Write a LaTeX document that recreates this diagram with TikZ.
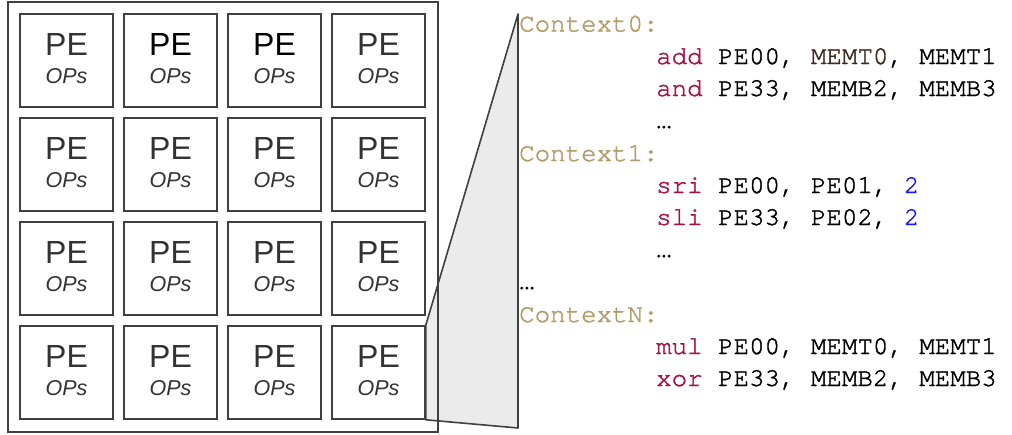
\documentclass[tikz,border=0pt]{standalone}
\usepackage{fontspec}
\setmainfont{Liberation Sans}
\newfontfamily\codefont[FakeBold=1.6]{texgyrecursor-regular.otf}
\definecolor{ctx}{RGB}{178,156,106}
\definecolor{kw}{RGB}{163,21,69}
\definecolor{num}{RGB}{26,26,245}
\definecolor{mem}{RGB}{62,44,32}
\definecolor{edgec}{RGB}{64,64,64}
\definecolor{pegray}{RGB}{51,51,51}
\definecolor{fan}{RGB}{235,235,235}
\begin{document}
\begin{tikzpicture}[x=1pt,y=-1pt,
 pebox/.style={draw=edgec,line width=1.6pt,minimum width=93pt,minimum height=93pt,inner sep=0pt,fill=white},
 petext/.style={anchor=base,inner sep=0pt,font=\fontsize{32}{32}\selectfont},
 opstext/.style={anchor=base,inner sep=0pt,font=\fontsize{21.5}{21.5}\selectfont\itshape,text=pegray},
 code/.style={anchor=base west,inner sep=0pt,font=\codefont\fontsize{25.8}{26}\selectfont}]
\useasboundingbox (0,0) rectangle (1012,434);
% PE grid
\foreach \r in {0,1,2,3}{
  \foreach \c in {0,1,2,3}{
    \pgfmathsetmacro{\cx}{66.5+104*\c}
    \pgfmathsetmacro{\cy}{60.5+104*\r}
    \node[pebox] (pe\r\c) at (\cx,\cy) {};
    \pgfmathtruncatemacro{\isblack}{(\r==0 && (\c==1 || \c==2)) ? 1 : 0}
    \ifnum\isblack=1
      \node[petext,text=black] (pel\r\c) at (\cx,\cy-5.5) {PE};
    \else
      \node[petext,text=pegray] (pel\r\c) at (\cx,\cy-5.5) {PE};
    \fi
    \node[opstext] (ops\r\c) at (\cx,\cy+22.5) {OPs};
  }
}
% zoom fan
\coordinate (tt) at (518,14);
\coordinate (tb) at (518,428);
\filldraw[fill=fan,draw=edgec,line width=1.6pt,line join=round]
  (pe33.north east) -- (tt) -- (tb) -- (pe33.south east) -- cycle;
% outer frame
\node[draw=edgec,line width=1.6pt,minimum width=430pt,minimum height=430pt,inner sep=0pt] (frame) at (223,217) {};
% code
\node[code,text=ctx] (c0) at (519,31.5) {Context0:};
\node[code] (l1) at (656,64) {{\color{kw}add} PE00, {\color{mem}MEMT0}, MEMT1};
\node[code] (l2) at (656,96) {{\color{kw}and} PE33, MEMB2, MEMB3};
\node[code] (l3) at (656,128) {…};
\node[code,text=ctx] (c1) at (519,161) {Context1:};
\node[code] (l4) at (656,193) {{\color{kw}sri} PE00, PE01, {\color{num}2}};
\node[code] (l5) at (656,225) {{\color{kw}sli} PE33, PE02, {\color{num}2}};
\node[code] (l6) at (656,257) {…};
\node[code] (l7) at (519,289) {…};
\node[code,text=ctx] (cn) at (519,322) {ContextN:};
\node[code] (l8) at (656,354) {{\color{kw}mul} PE00, MEMT0, MEMT1};
\node[code] (l9) at (656,386) {{\color{kw}xor} PE33, MEMB2, MEMB3};
\end{tikzpicture}
\end{document}
